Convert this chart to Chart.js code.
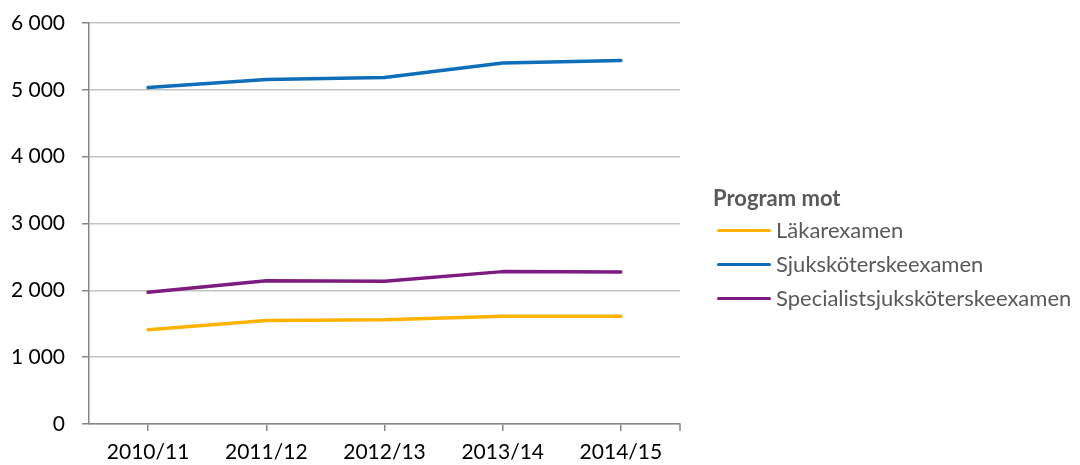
<!DOCTYPE html>
<html>
<head>
<meta charset="utf-8">
<script src="https://cdn.jsdelivr.net/npm/chart.js@4.4.1/dist/chart.umd.min.js"></script>
<style>
  html, body { margin: 0; padding: 0; background: #fff; }
  #wrap { position: relative; width: 1080px; height: 465px; }
  #c { position: absolute; left: 0; top: 0; }
  #legend { position: absolute; left: 713px; top: 183px; font-family: Lato, sans-serif; color: #595959; }
  #legend .title { font-weight: bold; font-size: 22px; line-height: 30px; height: 30px; }
  #legend .item { position: relative; height: 34px; line-height: 34px; font-size: 22px; padding-left: 63px; }
  #legend .sw { position: absolute; left: 4px; top: 16px; width: 54px; height: 3px; border-radius: 2px; }
</style>
</head>
<body>
<div id="wrap">
  <canvas id="c" width="1080" height="465"></canvas>
  <div id="legend"></div>
</div>
<script>
const categories = ["2010/11", "2011/12", "2012/13", "2013/14", "2014/15"];
const seriesNames = ["Läkarexamen", "Sjuksköterskeexamen", "Specialistsjuksköterskeexamen"];
const lakarexamen = [1410, 1550, 1560, 1614, 1614];
const sjukskoterskeexamen = [5034, 5154, 5184, 5400, 5439];
const specialistsjukskoterskeexamen = [1970, 2145, 2135, 2280, 2274];
const yTicks = [0, 1000, 2000, 3000, 4000, 5000, 6000];
const legendTitle = "Program mot";
const colors = ["#FDB300", "#0F6EBA", "#7E1B81"];

function fmt(v) {
  return String(v).replace(/\B(?=(\d{3})+(?!\d))/g, " ");
}

const values = [lakarexamen, sjukskoterskeexamen, specialistsjukskoterskeexamen];
const datasets = seriesNames.map((n, i) => ({
  label: n,
  data: values[i],
  borderColor: colors[i],
  backgroundColor: colors[i],
  borderWidth: 3.5,
  pointRadius: 0,
  pointHoverRadius: 0,
  tension: 0,
  borderCapStyle: 'round',
  borderJoinStyle: 'round'
}));

const rightTick = {
  id: 'rightTick',
  afterDraw(chart) {
    const ctx = chart.ctx, a = chart.chartArea;
    ctx.save();
    ctx.strokeStyle = '#868686';
    ctx.lineWidth = 1.5;
    ctx.beginPath();
    ctx.moveTo(a.right, a.bottom);
    ctx.lineTo(a.right, a.bottom + 7);
    ctx.stroke();
    ctx.restore();
  }
};

new Chart(document.getElementById('c'), {
  type: 'line',
  data: { labels: categories, datasets },
  plugins: [rightTick],
  options: {
    responsive: false,
    animation: false,
    devicePixelRatio: 1,
    layout: { padding: { left: 0, right: 400, top: 23, bottom: 0 } },
    plugins: { legend: { display: false }, tooltip: { enabled: false } },
    scales: {
      x: {
        offset: true,
        grid: { display: true, drawOnChartArea: false, offset: false, color: '#868686', tickColor: '#868686', tickLength: 7, lineWidth: 1.5 },
        border: { display: true, color: '#868686', width: 1.5 },
        ticks: { color: '#000', font: { family: 'Lato', size: 21 }, padding: 9, maxRotation: 0 },
        afterFit(s) { s.height = 41; s.paddingLeft = 0; s.paddingRight = 0; }
      },
      y: {
        min: 0, max: 6000,
        afterBuildTicks(s) { s.ticks = yTicks.map(v => ({ value: v })); },
        grid: { color: '#c4c4c4', lineWidth: 1.5, tickColor: '#868686', tickLength: 7 },
        border: { display: true, color: '#868686', width: 1.5 },
        ticks: { color: '#000', font: { family: 'Lato', size: 21 }, padding: 17, callback: v => fmt(v) },
        afterFit(s) { s.width = 89; s.paddingTop = 0; s.paddingBottom = 0; }
      }
    }
  }
});

const lg = document.getElementById('legend');
const t = document.createElement('div');
t.className = 'title';
t.textContent = legendTitle;
lg.appendChild(t);
seriesNames.forEach((n, i) => {
  const it = document.createElement('div');
  it.className = 'item';
  const sw = document.createElement('span');
  sw.className = 'sw';
  sw.style.background = colors[i];
  it.appendChild(sw);
  it.appendChild(document.createTextNode(n));
  lg.appendChild(it);
});
</script>
</body>
</html>
